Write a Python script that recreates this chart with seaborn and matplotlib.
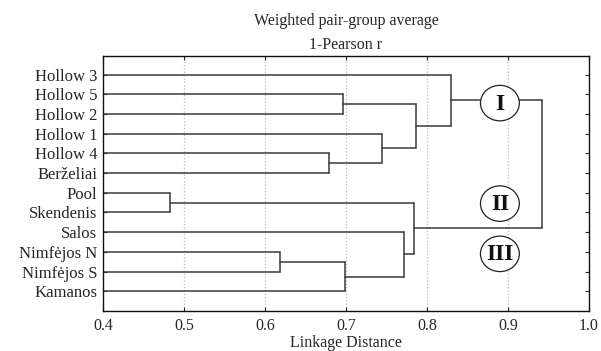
import matplotlib
matplotlib.use("Agg")
import matplotlib.pyplot as plt
from matplotlib.patches import Ellipse
import numpy as np
import pandas as pd
import seaborn as sns

# leaves, top to bottom
leaves = ["Hollow 3", "Hollow 5", "Hollow 2", "Hollow 1", "Hollow 4", "Berželiai",
          "Pool", "Skendenis", "Salos", "Nimfėjos N", "Nimfėjos S", "Kamanos"]

# merges: left child, right child, linkage distance (new cluster ids start at 12)
merge_left = [6, 9, 4, 1, 13, 3, 8, 12, 15, 0, 21]
merge_right = [7, 10, 5, 2, 11, 14, 16, 18, 17, 20, 19]
merge_height = [0.483, 0.619, 0.679, 0.696, 0.699, 0.744, 0.772, 0.784, 0.786, 0.830, 0.942]

cluster_names = ["I", "II", "III"]
x_ticks = [0.4, 0.5, 0.6, 0.7, 0.8, 0.9, 1.0]


def dendro_segments(n, left, right, height, x0=0.0):
    pos = {i: float(i) for i in range(n)}
    hgt = {i: x0 for i in range(n)}
    rows = []
    seg = 0
    for k, (a, b, h) in enumerate(zip(left, right, height)):
        c = n + k
        # horizontal from each child, plus the vertical join
        for xs, ys in [([hgt[a], h], [pos[a], pos[a]]),
                       ([hgt[b], h], [pos[b], pos[b]]),
                       ([h, h], [pos[a], pos[b]])]:
            for x, y in zip(xs, ys):
                rows.append({"seg": seg, "x": x, "y": y})
            seg += 1
        pos[c] = (pos[a] + pos[b]) / 2
        hgt[c] = h
    return pd.DataFrame(rows)


sns.set_style("white")
plt.rcParams["font.family"] = ["Liberation Serif", "DejaVu Serif"]

fig = plt.figure(figsize=(6.01, 3.51), dpi=100)
ax = fig.add_axes([103 / 601, 40 / 351, 486 / 601, 255 / 351])

for xv in x_ticks[1:-1]:
    ax.axvline(xv, color="#bdbdbd", linestyle=":", linewidth=0.9, zorder=0)

df = dendro_segments(len(leaves), merge_left, merge_right, merge_height)
sns.lineplot(data=df, x="x", y="y", units="seg", estimator=None, sort=False,
             color="#3a3a3a", linewidth=1.1, ax=ax, legend=False, zorder=2)

# cluster markers
circle_x = 0.89
circle_y = [1.45, 6.55, 9.1]
for name, cy in zip(cluster_names, circle_y):
    ax.add_patch(Ellipse((circle_x, cy), 0.048, 1.8, facecolor="white",
                         edgecolor="#222222", linewidth=0.9, zorder=3))
    ax.text(circle_x, cy + 0.05, name, ha="center", va="center", fontsize=17,
            fontweight="bold", color="#111111", zorder=4)

ax.set_xlim(0.4, 1.0)
ax.set_ylim(12.0, -0.94)
ax.set_xticks(x_ticks)
ax.set_xticklabels([f"{v:.1f}" for v in x_ticks], fontsize=11.5)
ax.set_yticks(range(len(leaves)))
ax.set_yticklabels(leaves, fontsize=12)
ax.tick_params(axis="x", direction="in", top=True, bottom=True, length=3, pad=5)
ax.tick_params(axis="y", direction="in", left=True, right=True, length=3, pad=4)
ax.set_xlabel("Linkage Distance", fontsize=11.5, labelpad=1)
ax.set_ylabel("")
ax.set_title("Weighted pair-group average\n1-Pearson r", fontsize=11.5, pad=5,
             linespacing=1.7)
for sp in ax.spines.values():
    sp.set_color("#111111")
    sp.set_linewidth(1.0)

fig.savefig("out.png", dpi=100)
